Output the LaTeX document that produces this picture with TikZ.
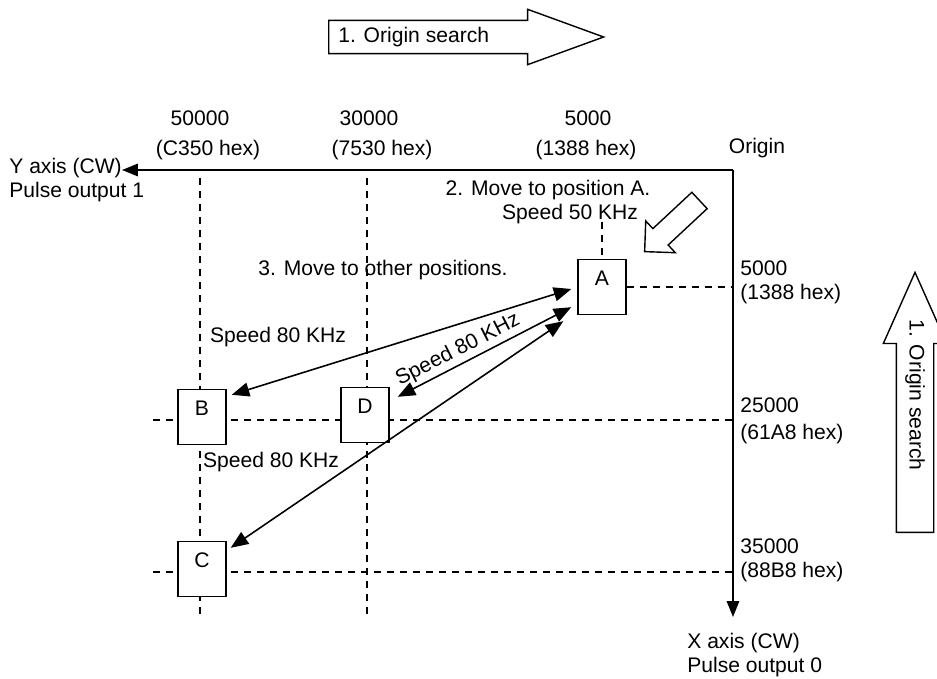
\documentclass[tikz,border=0pt]{standalone}
\usepackage{fontspec}
\setmainfont{Liberation Sans}
\usetikzlibrary{arrows.meta, positioning, shapes.arrows}

\begin{document}
\begin{tikzpicture}[x=0.02cm, y=-0.02cm,
    every node/.style={font=\fontsize{12}{13.6}\selectfont, inner sep=0pt},
    grid/.style={dash pattern=on 4pt off 3.4pt, line width=0.8pt},
    axis/.style={-{Triangle[length=9pt,width=7pt]}, line width=1.1pt},
    move/.style={{Triangle[length=10pt,width=8pt]}-{Triangle[length=10pt,width=8pt]}, line width=0.9pt},
    posbox/.style={draw, fill=white, line width=0.8pt, minimum width=0.96cm, minimum height=1.1cm, text depth=10pt},
    bigarrow/.style={draw, fill=white, single arrow, line width=0.8pt, inner xsep=0pt}]
\useasboundingbox (0,0) rectangle (937,679);

% grid lines of the target positions
\draw[grid] (200,178) -- (200,618);
\draw[grid] (367,178) -- (367,618);
\draw[grid] (153,420) -- (733,420);
\draw[grid] (153,572) -- (733,572);

% axes
\coordinate (org) at (733,170);
\coordinate (yend) at (122,170);
\coordinate (xend) at (733,617);
\draw[axis] (org) -- (yend);
\draw[axis] (org) -- (xend);

% positions
\node[posbox] (A) at (602,287) {A};
\node[posbox] (B) at (202,417) {B};
\node[posbox] (D) at (365,415) {D};
\node[posbox] (C) at (202,569) {C};
\draw[grid] (602,222) -- (A.north);
\draw[grid] (A.east) -- (A.east -| org);

% column and row values
\node (v50k) at (200,118) {50000};
\node (h50k) at (208,150) {(C350 hex)};
\node (v30k) at (369,118) {30000};
\node (h30k) at (382,150) {(7530 hex)};
\node (v5k)  at (588,118) {5000};
\node (h5k)  at (586,150) {(1388 hex)};
\node (orglab) at (757,148) {Origin};
\node[align=left, anchor=west] (ylab) at (9,180) {Y axis (CW)\\Pulse output 1};
\node[align=left, anchor=west] (xlab) at (687,655) {X axis (CW)\\Pulse output 0};
\node[align=left, anchor=west] (r5k)  at (740,282) {5000\\(1388 hex)};
\node[align=left, anchor=west] (r25k) at (740,421) {25000\\[2pt](61A8 hex)};
\node[align=left, anchor=west] (r35k) at (740,560) {35000\\(88B8 hex)};

% origin search
\node[bigarrow, inner ysep=0.32cm, minimum height=5.5cm, single arrow head extend=0.22cm,
      single arrow tip angle=40, anchor=tail] (srchx) at (328,37) {};
\node[anchor=west] (srchxt) at (338,37) {1. Origin search};
\node[bigarrow, inner ysep=0.36cm, minimum height=5.2cm, single arrow head extend=0.26cm,
      single arrow tip angle=48, rotate=90, anchor=tail] (srchy) at (915,533) {};
\node[rotate=-90] (srchyt) at (915,395) {1. Origin search};

% move to A
\node[bigarrow, inner ysep=0.21cm, minimum height=1.5cm, single arrow head extend=0.21cm,
      single arrow tip angle=90, rotate=223, anchor=tail] (gotoA) at (700,200) {};
\node (step2) at (548,190) {2. Move to position A.};
\node (spdA) at (570,214) {Speed 50 KHz};

% other positions
\node (step3) at (383,270) {3. Move to other positions.};
\node (spdB) at (278,337) {Speed 80 KHz};
\node[rotate=27] (spdD) at (458,350) {Speed 80 KHz};
\node (spdC) at (271,462) {Speed 80 KHz};
\draw[move] ([shift={(-6,2)}]A.west) -- ([shift={(5,6)}]B.north east);
\draw[move] ([shift={(-6,-8)}]A.south west) -- ([shift={(8,10)}]D.north east);
\draw[move] ([shift={(-14,6)}]A.south west) -- ([shift={(4,7)}]C.north east);
\end{tikzpicture}
\end{document}
